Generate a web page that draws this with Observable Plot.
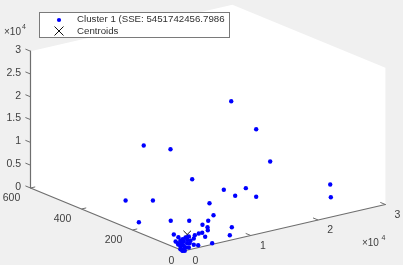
<!DOCTYPE html>
<html>
<head>
<meta charset="utf-8">
<script src="https://cdn.jsdelivr.net/npm/d3@7"></script>
<script src="https://cdn.jsdelivr.net/npm/@observablehq/plot@0.6"></script>
<style>
html,body{margin:0;padding:0;background:#f0f0f0;overflow:hidden}
#wrap{position:relative;width:403px;height:265px;filter:blur(0.35px);font-family:"Liberation Sans",Arial,sans-serif}
#wrap svg{display:block;background:transparent}
#legend{position:absolute;left:39px;top:12px;width:189px;height:24px;background:#fff;border:1px solid #7a7a7a;font-size:9.7px;color:#303030}
#legend div{position:absolute;left:37px;white-space:nowrap;line-height:12px}
#legend svg{position:absolute;left:12px;top:0}
</style>
</head>
<body>
<div id="wrap">
<div id="chart"></div>
<div id="legend">
<svg width="14" height="24"><circle cx="7" cy="7" r="2.1" fill="#0000ff"/><path d="M2.5 14.5l9 9M11.5 14.5l-9 9" transform="translate(0,-1)" stroke="#111" stroke-width="1" fill="none"/></svg>
<div style="top:0px">Cluster 1 (SSE: 5451742456.7986</div>
<div style="top:12px">Centroids</div>
</div>
</div>
<script>
// Cluster 1 values
const xValues = [10880,10800,12880,21800,21890,5990,9260,7680,10800,3860,4460,3670,2820,3570,3610,7180,6880,2780,3220,4260,0,0,1290,0,0,0,0,850,0,0,0,0,0,0,300,790,1680,2270,1530,1040,2180,1530,790,40,0,0,0,190,0,550,300,0,40,890,550,0,40];
const yValues = [100,0,0,0,0,0,0,0,0,0,0,0,0,0,0,0,0,0,0,0,156,51,0,227,120,175,50,0,38,20,31,22,12,3,0,0,0,0,0,0,0,0,0,0,12,21,5,0,3,0,0,8,0,0,0,12,0];
const zValues = [26850,23040,15250,7180,4360,11390,10630,9490,8210,9170,6340,5380,4790,4010,3330,2780,1130,3050,2020,260,19550,21150,15310,5840,8300,2280,5480,6340,2740,2570,1360,1200,2030,2520,2860,2910,2890,3070,2220,1880,530,840,500,1120,710,950,0,0,0,1520,670,1530,2000,1410,2270,120,390];
const centroid = [{X:550,Y:0,Z:3430}];
const xTicks = [0,10000,20000,30000];
const xTickLabels = ["0","1","2","3"];
const yTicks = [200,400,600];
const yTickLabels = ["200","400","600"];
const zTicks = [0,5000,10000,15000,20000,25000,30000];
const zTickLabels = ["0","0.5","1","1.5","2","2.5","3"];

// Axis-view projection of the 3-D box onto the page plane
const U = d => d.X*67.3/10000 - d.Y*0.255;
const V = d => d.X*15.5/10000 + d.Y*0.105 + d.Z*45.6/10000;
const P = (X,Y,Z) => ({X,Y,Z});
const points = xValues.map((X,i)=>P(X,yValues[i],zValues[i]));
const xMax=30000, yMax=600, zMax=30000;
const walls = [P(0,0,0),P(0,yMax,0),P(0,yMax,zMax),P(xMax,yMax,zMax),P(xMax,0,zMax),P(xMax,0,0)];
const axisPath = [P(0,yMax,zMax),P(0,yMax,0),P(0,0,0),P(xMax,0,0)];
const axisColor="#6e6e6e", textColor="#404040";
const pairs = (ts,f,g)=>ts.map(t=>({a:f(t),b:g(t)}));
const xT = pairs(xTicks,t=>P(t,0,0),t=>P(t,20,0));
const yT = pairs(yTicks,t=>P(0,t,0),t=>P(700,t,0));
const zT = pairs(zTicks,t=>P(0,yMax,t),t=>P(0,yMax+20,t));
const tick = arr => Plot.link(arr,{x1:d=>U(d.a),y1:d=>V(d.a),x2:d=>U(d.b),y2:d=>V(d.b),stroke:axisColor,strokeWidth:1});
const label = (ticks,labels,f,o) => Plot.text(ticks,{x:t=>U(f(t)),y:t=>V(f(t)),text:(t,i)=>labels[i],fill:textColor,fontSize:10.5,...o});
const note = (p,text,o) => Plot.text([p],{x:U,y:V,text:()=>text,fill:textColor,...o});

const plot = Plot.plot({
  width:403,height:265,
  marginTop:0,marginRight:0,marginBottom:0,marginLeft:0,
  x:{type:"linear",domain:[-183,220],range:[0,403],axis:null},
  y:{type:"linear",domain:[-14.5,250.5],range:[265,0],axis:null},
  style:{background:"transparent",fontFamily:"Liberation Sans, Arial, sans-serif"},
  marks:[
    Plot.line(walls,{x:U,y:V,fill:"white",stroke:"none"}),
    Plot.line(axisPath,{x:U,y:V,stroke:axisColor,strokeWidth:1.2}),
    tick(xT),tick(yT),tick(zT),
    label(xTicks,xTickLabels,t=>P(t,0,0),{dx:12,dy:10}),
    label(yTicks,yTickLabels,t=>P(0,t,0),{dx:-19,dy:9.5}),
    label([0],["0"],t=>P(0,t,0),{dx:-12,dy:9.5}),
    label(zTicks,zTickLabels,t=>P(0,yMax,t),{dx:-9.5,dy:-1.5,textAnchor:"end"}),
    note(P(0,yMax,zMax),"×10",{dx:-18,dy:-19.5,fontSize:10}),
    note(P(0,yMax,zMax),"4",{dx:-6.5,dy:-24,fontSize:7}),
    note(P(xMax,0,0),"×10",{dx:-15,dy:38,fontSize:10}),
    note(P(xMax,0,0),"4",{dx:-2,dy:33,fontSize:7}),
    Plot.dot(centroid,{x:U,y:V,symbol:"times",r:3.5,stroke:"#111",strokeWidth:1}),
    Plot.dot(points,{x:U,y:V,r:2.2,fill:"#0000ff",stroke:"none"})
  ]
});
document.getElementById("chart").appendChild(plot);
</script>
</body>
</html>
